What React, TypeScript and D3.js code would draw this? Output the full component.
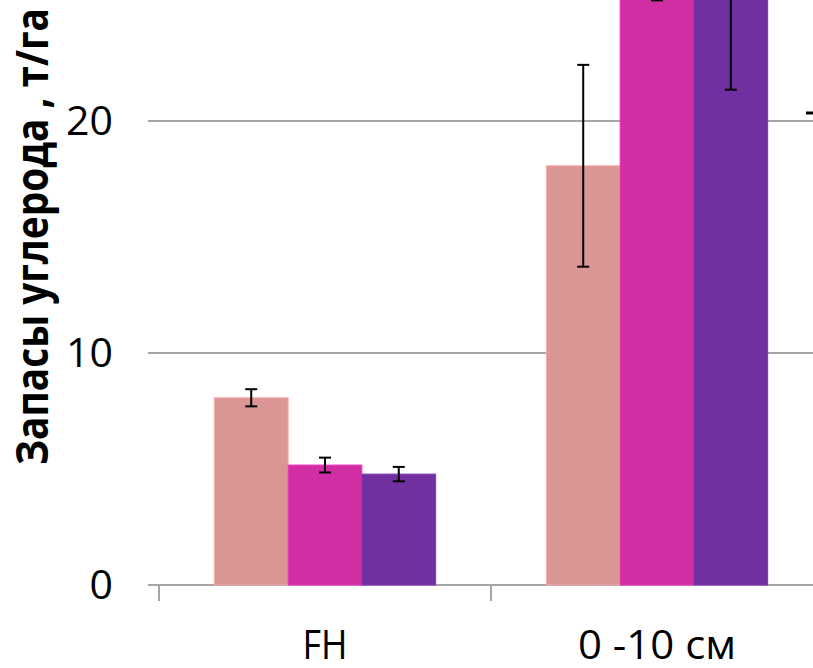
import React, { useEffect, useRef } from "react";
import * as d3 from "d3";

const categories = ["FH", "0 -10 см"];
const categoryLabelWidths = [45, 158];
const seriesNames = ["Ряд 1", "Ряд 2", "Ряд 3"];
const seriesColors = ["#D99694", "#D22EA4", "#7030A0"];
// values per category, one per series
const values = [
  [8.07, 5.17, 4.78],
  [18.07, 29.0, 27.5],
];
const errors = [
  [0.37, 0.32, 0.31],
  [4.35, 3.8, 6.15],
];
const yTicks = [0, 10, 20];
const yTitle = "Запасы углерода , т/га";

export default function App() {
  const ref = useRef<SVGSVGElement>(null);

  useEffect(() => {
    document.body.style.margin = "0";
    const svg = d3.select(ref.current);
    svg.selectAll("*").remove();

    const y = d3.scaleLinear().domain([0, 20]).range([585, 121]);
    const x = d3.scaleBand().domain(categories).range([159, 823]).paddingInner(0);
    const xs = d3.scaleBand().domain(seriesNames).range([0, x.bandwidth()]).paddingInner(0).paddingOuter(0.75);

    // grid + zero line
    svg.append("g")
      .selectAll("line")
      .data(yTicks)
      .enter()
      .append("line")
      .attr("x1", 148)
      .attr("x2", 813)
      .attr("y1", d => y(d))
      .attr("y2", d => y(d))
      .attr("stroke", "#A6A6A6")
      .attr("stroke-width", 2);

    // category ticks
    svg.append("g")
      .selectAll("line")
      .data([...categories, "end"])
      .enter()
      .append("line")
      .attr("x1", (d, i) => 159 + i * x.step())
      .attr("x2", (d, i) => 159 + i * x.step())
      .attr("y1", y(0))
      .attr("y2", y(0) + 16)
      .attr("stroke", "#A6A6A6")
      .attr("stroke-width", 2);

    const groups = svg.append("g")
      .selectAll("g")
      .data(categories)
      .enter()
      .append("g")
      .attr("transform", d => `translate(${x(d)},0)`);

    groups.selectAll("rect")
      .data((d, i) => values[i].map((v, j) => ({ v, j })))
      .enter()
      .append("rect")
      .attr("x", d => xs(seriesNames[d.j])!)
      .attr("width", xs.bandwidth())
      .attr("y", d => y(d.v))
      .attr("height", d => y(0) - y(d.v))
      .attr("fill", d => seriesColors[d.j])
      .attr("stroke", d => d3.color(seriesColors[d.j])!.brighter(0.4).toString())
      .attr("stroke-width", 1);

    const eb = groups.selectAll("g.err")
      .data((d, i) => values[i].map((v, j) => ({ v, e: errors[i][j], j })))
      .enter()
      .append("g")
      .attr("class", "err")
      .attr("transform", d => `translate(${xs(seriesNames[d.j])! + xs.bandwidth() / 2},0)`)
      .attr("stroke", "#000")
      .attr("stroke-width", 2);
    eb.append("line").attr("y1", d => y(d.v - d.e)).attr("y2", d => y(d.v + d.e));
    eb.append("line").attr("x1", -6).attr("x2", 6).attr("y1", d => y(d.v - d.e)).attr("y2", d => y(d.v - d.e));
    eb.append("line").attr("x1", -6).attr("x2", 6).attr("y1", d => y(d.v + d.e)).attr("y2", d => y(d.v + d.e));

    // y tick labels
    svg.append("g")
      .selectAll("text")
      .data(yTicks)
      .enter()
      .append("text")
      .attr("x", 113)
      .attr("y", d => y(d) + 14)
      .attr("text-anchor", "end")
      .style("font-family", "'Open Sans', sans-serif")
      .style("font-size", "41px")
      .style("fill", "#000")
      .text(d => d);

    // x labels
    svg.append("g")
      .selectAll("text")
      .data(categories)
      .enter()
      .append("text")
      .attr("x", d => x(d)! + x.bandwidth() / 2 - categoryLabelWidths[categories.indexOf(d)] / 2)
      .attr("y", 659)
      .attr("textLength", (d, i) => categoryLabelWidths[i])
      .attr("lengthAdjust", "spacingAndGlyphs")
      .style("font-family", "'Open Sans', sans-serif")
      .style("font-size", "40px")
      .style("fill", "#000")
      .text(d => d);

    // y title
    svg.append("text")
      .attr("transform", `translate(48,${465}) rotate(-90)`)
      .attr("textLength", 457)
      .attr("lengthAdjust", "spacingAndGlyphs")
      .style("font-family", "'Open Sans', sans-serif")
      .style("font-weight", "bold")
      .style("font-size", "44px")
      .style("fill", "#000")
      .text(yTitle);

    // legend stub cut off at the right edge
    svg.append("line")
      .attr("x1", 806).attr("x2", 813)
      .attr("y1", 113).attr("y2", 113)
      .attr("stroke", "#000").attr("stroke-width", 3);
  }, []);

  return <svg ref={ref} width={813} height={668} style={{ display: "block", background: "#fff" }} />;
}
